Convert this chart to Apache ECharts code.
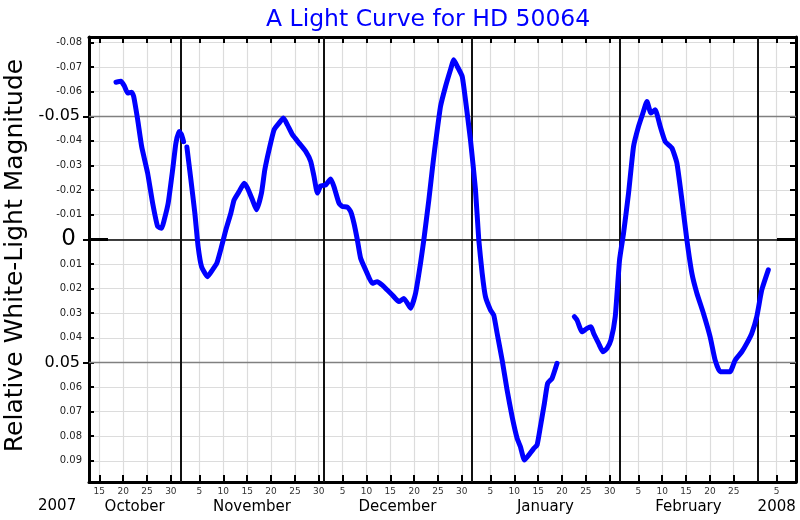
<!DOCTYPE html>
<html><head><meta charset="utf-8">
<script src="https://cdn.jsdelivr.net/npm/echarts@6/dist/echarts.min.js"></script>
<style>html,body{margin:0;padding:0;background:#fff}#c{width:800px;height:520px}</style>
</head><body><div id="c"></div>
<script>
// Day numbers: 1 = 1 Oct 2007, 32 = 1 Nov, 62 = 1 Dec, 93 = 1 Jan 2008, 124 = 1 Feb, 153 = 1 Mar
const seg1Days = [18.50,19.54,20.23,20.95,21.78,22.20,23.04,23.88,25.13,26.18,27.23,28.06,28.61,29.44,30.37,31.06,31.75,32.25,32.67];
const seg1Mags = [-0.0638,-0.0642,-0.0624,-0.0594,-0.0598,-0.0581,-0.0486,-0.0377,-0.0269,-0.0147,-0.0052,-0.0045,-0.0079,-0.0147,-0.0282,-0.0391,-0.0438,-0.0425,-0.0397];

const seg2Days = [33.36,34.20,35.03,35.72,36.44,37.69,38.74,39.64,40.62,41.52,42.57,43.26,44.31,45.35,46.07,47.11,47.95,49.00,49.69,50.59,51.63,52.68,53.60,54.44,55.49,56.87,58.27,59.32,60.01,60.72,61.41,62.46,63.50,64.19,65.24,65.95,67.00,67.69,68.38,69.09,69.78,70.83,72.23,73.28,74.33,75.37,76.42,77.80,78.85,80.25,81.30,82.34,83.03,84.08,84.79,85.30,86.53,87.58,88.62,89.31,90.03,91.07,91.76,92.81,93.86,94.55,95.26,95.95,97.00,97.69,98.40,99.45,100.49,101.54,102.59,103.28,104.11,105.01,106.06,106.77,107.46,108.30,108.99,109.91,110.96];
const seg2Mags = [-0.0375,-0.0242,-0.0106,0.0030,0.0111,0.0152,0.0124,0.0097,0.0030,-0.0038,-0.0106,-0.0160,-0.0194,-0.0228,-0.0208,-0.0160,-0.0120,-0.0188,-0.0282,-0.0364,-0.0445,-0.0472,-0.0493,-0.0465,-0.0425,-0.0391,-0.0357,-0.0316,-0.0255,-0.0188,-0.0217,-0.0221,-0.0245,-0.0214,-0.0147,-0.0133,-0.0131,-0.0113,-0.0066,0.0002,0.0077,0.0124,0.0179,0.0172,0.0186,0.0206,0.0226,0.0253,0.0240,0.0280,0.0219,0.0097,0.0002,-0.0160,-0.0282,-0.0364,-0.0540,-0.0621,-0.0689,-0.0730,-0.0703,-0.0662,-0.0567,-0.0404,-0.0201,0.0002,0.0138,0.0233,0.0287,0.0308,0.0382,0.0491,0.0613,0.0721,0.0809,0.0843,0.0897,0.0877,0.0850,0.0836,0.0762,0.0667,0.0585,0.0565,0.0504];

const seg3Days = [114.58,115.15,116.19,117.24,118.08,118.62,119.67,120.59,121.43,122.26,123.16,124.06,124.90,125.95,126.99,128.04,128.96,129.80,130.64,131.54,132.58,133.63,135.03,136.08,137.13,138.17,139.22,140.27,141.65,143.05,144.10,145.14,146.19,147.24,148.29,149.69,150.73,151.78,152.83,153.87,155.25];
const seg3Mags = [0.0314,0.0328,0.0376,0.0362,0.0355,0.0382,0.0423,0.0457,0.0443,0.0409,0.0314,0.0084,-0.0025,-0.0188,-0.0377,-0.0459,-0.0513,-0.0560,-0.0513,-0.0526,-0.0459,-0.0397,-0.0371,-0.0310,-0.0160,0.0002,0.0138,0.0219,0.0301,0.0396,0.0491,0.0538,0.0538,0.0538,0.0491,0.0457,0.0423,0.0382,0.0314,0.0206,0.0124];

const dayTicks = [15,20,25,30,36,41,46,51,56,61,66,71,76,81,86,91,97,102,107,112,117,122,128,133,138,143,148,157];
const dayTickLabels = ['15','20','25','30','5','10','15','20','25','30','5','10','15','20','25','30','5','10','15','20','25','30','5','10','15','20','25','5'];
const monthStarts = [32,62,93,124,153];
const monthCenters = [22.4,47,77.5,108.5,138.5,157];
const monthNames = ['October','November','December','January','February','2008'];
const magTicks = [-0.08,-0.07,-0.06,-0.05,-0.04,-0.03,-0.02,-0.01,0,0.01,0.02,0.03,0.04,0.05,0.06,0.07,0.08,0.09];
const magTickLabels = ['-0.08','-0.07','-0.06','-0.05','-0.04','-0.03','-0.02','-0.01','0','0.01','0.02','0.03','0.04','0.05','0.06','0.07','0.08','0.09'];
const majorMags = [-0.05,0.05];
const xMin = 12.84, xMax = 161.05, yMin = -0.0822, yMax = 0.0986;

const FONT = 'DejaVu Sans';
function idxOf(arr, v){ return arr.findIndex(a => Math.abs(a - v) < 1e-6); }

const lineData = [];
seg1Days.forEach((d,i)=>lineData.push([d, seg1Mags[i]]));
lineData.push(['-','-']);
seg2Days.forEach((d,i)=>lineData.push([d, seg2Mags[i]]));
lineData.push(['-','-']);
seg3Days.forEach((d,i)=>lineData.push([d, seg3Mags[i]]));

const markData = [];
majorMags.forEach(m => markData.push({yAxis: m, lineStyle:{color:'#808080', width:1.3, type:'solid'}}));
markData.push({yAxis: 0, lineStyle:{color:'#000', width:1.5, type:'solid'}});
monthStarts.forEach(d => markData.push({xAxis: d, lineStyle:{color:'#111', width:2, type:'solid'}}));

const baseX = {type:'value', min:xMin, max:xMax, gridIndex:0};
const baseY = {type:'value', min:yMin, max:yMax, inverse:true, gridIndex:0};

const chart = echarts.init(document.getElementById('c'), null, {renderer:'canvas'});
chart.setOption({
  animation:false,
  backgroundColor:'#fff',
  textStyle:{fontFamily:FONT},
  title:{text:'A Light Curve for HD 50064', left:261, top:3,
    textStyle:{fontFamily:FONT, fontSize:23.5, fontWeight:'normal', color:'#0000ff'}},
  graphic:[{type:'text', left:38, top:499, style:{text:'2007', font:'15px "DejaVu Sans"', fill:'#000'}}],
  grid:{left:89, right:4, top:37, bottom:38, containLabel:false, outerBoundsMode:'none'},
  xAxis:[
    Object.assign({}, baseX, {position:'bottom',
      axisLine:{show:true, onZero:false, lineStyle:{color:'#000', width:3}},
      axisTick:{show:true, inside:true, length:7, customValues:dayTicks, lineStyle:{color:'#000', width:2}},
      axisLabel:{show:true, customValues:dayTicks, margin:5, fontSize:9, color:'#333', fontFamily:FONT,
        formatter:v => dayTickLabels[idxOf(dayTicks, v)] || ''},
      splitLine:{show:true, lineStyle:{color:'#dcdcdc', width:1.2}}}),
    Object.assign({}, baseX, {position:'top',
      axisLine:{show:true, onZero:false, lineStyle:{color:'#000', width:3}},
      axisTick:{show:true, inside:true, length:6, customValues:dayTicks, lineStyle:{color:'#000', width:2}},
      axisLabel:{show:false}, splitLine:{show:false}}),
    Object.assign({}, baseX, {position:'bottom',
      axisLine:{show:false, onZero:false}, axisTick:{show:false},
      axisLabel:{show:true, customValues:monthCenters, margin:18, fontSize:15, color:'#000', fontFamily:FONT,
        formatter:v => monthNames[idxOf(monthCenters, v)] || ''},
      splitLine:{show:false}})
  ],
  yAxis:[
    Object.assign({}, baseY, {position:'left',
      name:'Relative White-Light Magnitude', nameLocation:'middle', nameGap:60,
      nameTextStyle:{fontSize:25, color:'#000', fontFamily:FONT, padding:[0,0,0,8]},
      axisLine:{show:true, onZero:false, lineStyle:{color:'#000', width:3}},
      axisTick:{show:true, inside:true, length:5, customValues:magTicks, lineStyle:{color:'#000', width:2}},
      axisLabel:{show:true, customValues:magTicks, margin:7, fontSize:10, color:'#222', fontFamily:FONT,
        formatter:v => {
          const t = magTickLabels[idxOf(magTicks, v)] || '';
          if (Math.abs(v) < 1e-9) return '{big|' + t + '}';
          if (idxOf(majorMags, v) >= 0) return '{mid|' + t + '}';
          return t;
        },
        rich:{big:{fontSize:23, color:'#000', fontFamily:FONT, padding:[0,6,0,0]},
              mid:{fontSize:16, color:'#000', fontFamily:FONT, padding:[0,2,0,0]}}},
      splitLine:{show:true, lineStyle:{color:'#dcdcdc', width:1.2}}}),
    Object.assign({}, baseY, {position:'left',
      axisLine:{show:false, onZero:false},
      axisTick:{show:true, inside:false, length:6, customValues:[-0.05,0,0.05], lineStyle:{color:'#000', width:2}},
      axisLabel:{show:false}, splitLine:{show:false}}),
    Object.assign({}, baseY, {position:'left',
      axisLine:{show:false, onZero:false},
      axisTick:{show:true, inside:true, length:19, customValues:[0], lineStyle:{color:'#000', width:3}},
      axisLabel:{show:false}, splitLine:{show:false}}),
    Object.assign({}, baseY, {position:'right',
      axisLine:{show:true, onZero:false, lineStyle:{color:'#000', width:3}},
      axisTick:{show:true, inside:true, length:6, customValues:magTicks, lineStyle:{color:'#000', width:2}},
      axisLabel:{show:false}, splitLine:{show:false}}),
    Object.assign({}, baseY, {position:'right',
      axisLine:{show:false, onZero:false},
      axisTick:{show:true, inside:true, length:19, customValues:[0], lineStyle:{color:'#000', width:3}},
      axisLabel:{show:false}, splitLine:{show:false}})
  ],
  series:[
    {type:'line', xAxisIndex:0, yAxisIndex:0, data:[], z:1, silent:true,
      markLine:{silent:true, symbol:'none', z:1, label:{show:false}, animation:false, data:markData}},
    {type:'line', xAxisIndex:0, yAxisIndex:0, data:lineData, z:3, showSymbol:false, symbol:'none',
      smooth:0.15, connectNulls:false,
      lineStyle:{color:'#0000ff', width:5, cap:'round', join:'round'}}
  ]
});
</script></body></html>
